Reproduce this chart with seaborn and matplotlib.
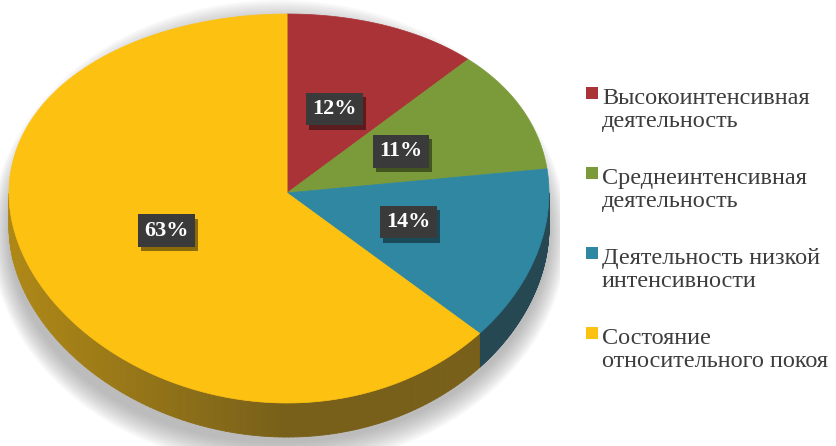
import numpy as np
import matplotlib
matplotlib.use('Agg')
import matplotlib.pyplot as plt
import matplotlib.patheffects as pe
from matplotlib.patches import Polygon, Ellipse, Rectangle
from matplotlib.collections import PolyCollection
import seaborn as sns

categories = ['Высокоинтенсивная\nдеятельность',
              'Среднеинтенсивная\nдеятельность',
              'Деятельность низкой\nинтенсивности',
              'Состояние\nотносительного покоя']
shares = [12, 11, 14, 63]
colors = ['#a93337', '#7b9b3b', '#2f87a2', '#fdc112']

sns.set_style('white')
plt.rcParams['font.family'] = ['Liberation Serif', 'DejaVu Serif']

TILT = 0.08    # perspective: centre of the disc sits a bit higher
SKEW = 0.03    # ... and a bit to the right
DEPTH = 0.175  # thickness of the side wall


def warp(x, y):
    x = np.asarray(x)
    y = np.asarray(y)
    return x + SKEW * (1 - x ** 2), y + TILT * (1 - y ** 2)


fig = plt.figure(figsize=(8.36, 4.46), dpi=100)
ax = fig.add_axes([0, 0, 560 / 836, 1])

wedges, texts, autotexts = ax.pie(
    shares, colors=colors, startangle=90, counterclock=False,
    autopct='%.0f%%', pctdistance=0.48, wedgeprops=dict(linewidth=0))

ax.set_aspect('auto')
ax.set_xlim(-279 / 270, 281 / 270)
ax.set_ylim(-237.5 / 194.5, 208.5 / 194.5)
ax.axis('off')

# soft shadow under the disc
for k in range(12):
    ax.add_patch(Ellipse((0.0, -0.13), 2 * (1.0 + 0.006 * k),
                         2 * (1.08 + 0.011 * k), fc='#7a7a7a', ec='none',
                         alpha=0.05, zorder=1))

# tilt the wedges and add the front wall
dark = np.array([0.12, 0.12, 0.12])
for w in wedges:
    fc = np.array(w.get_facecolor()[:3])
    t = np.radians(np.linspace(w.theta1, w.theta2, 240))
    wx, wy = warp(np.r_[0, np.cos(t)], np.r_[0, np.sin(t)])
    ax.add_patch(Polygon(np.c_[wx, wy], closed=True, fc=fc, ec=fc,
                         lw=0.5, zorder=3))
    w.set_visible(False)

    quads, shades = [], []
    for a, b in zip(t[:-1], t[1:]):
        m = (a + b) / 2
        if np.sin(m) > 0:
            continue
        x1, y1 = warp(np.cos(a), np.sin(a))
        x2, y2 = warp(np.cos(b), np.sin(b))
        quads.append([(x1, y1), (x2, y2), (x2, y2 - DEPTH), (x1, y1 - DEPTH)])
        f = 0.4 + 0.25 * max(0.0, -np.cos(m))
        shades.append(fc * f + dark * (1 - f))
    if quads:
        ax.add_collection(PolyCollection(quads, facecolors=shades,
                                         edgecolors=shades, linewidths=0.6,
                                         zorder=2))

# percentage boxes
for at in autotexts:
    x, y = at.get_position()
    at.set_position(warp(x, y))
    at.set(color='white', fontweight='bold', fontsize=16, zorder=6)
    at.set_bbox(dict(boxstyle='square,pad=0.28', fc='#3a3a3a', ec='none'))
    at.get_bbox_patch().set_path_effects([
        pe.SimplePatchShadow(offset=(2, -3), shadow_rgbFace='k', alpha=0.45),
        pe.Normal()])

# legend on the right (baseline of a two-line text is its last line)
for i, (lab, col) in enumerate(zip(categories, colors)):
    base = 100 + 80 * i
    fig.text(602 / 836, 1 - (base + 27) / 446, lab, fontsize=17.5,
             color='#3d3d3d', va='baseline', ha='left', linespacing=1.15)
    fig.add_artist(Rectangle((586 / 836, 1 - (base - 1) / 446), 12 / 836,
                             12 / 446, transform=fig.transFigure, fc=col,
                             ec='none'))

fig.savefig('out.png', dpi=100)
